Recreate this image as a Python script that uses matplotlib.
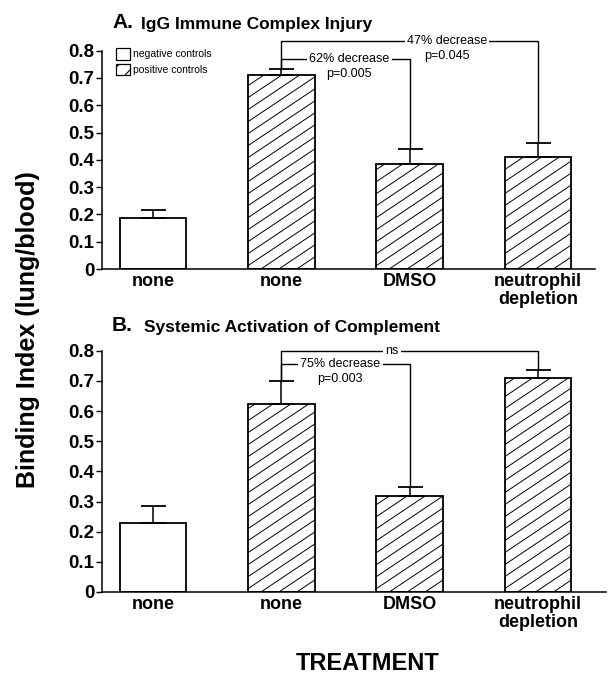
import matplotlib.pyplot as plt
from matplotlib.patches import Patch
from matplotlib.lines import Line2D
from matplotlib.transforms import IdentityTransform

plt.rcParams['font.family'] = ['Liberation Sans', 'DejaVu Sans']
plt.rcParams['hatch.linewidth'] = 0.8

categories = ["none", "none", "DMSO", "neutrophil\ndepletion"]
is_positive = [False, True, True, True]

# panel A: IgG immune complex injury
values_a = [0.188, 0.712, 0.385, 0.410]
errors_a = [0.028, 0.021, 0.055, 0.050]
# (from bar, to bar, bracket level, label, p-value, label position along bracket)
brackets_a = [(1, 2, 0.770, "62% decrease", "p=0.005", 0.53),
              (1, 3, 0.837, "47% decrease", "p=0.045", 0.645)]

# panel B: systemic activation of complement
values_b = [0.229, 0.624, 0.319, 0.708]
errors_b = [0.056, 0.074, 0.030, 0.028]
brackets_b = [(1, 2, 0.756, "75% decrease", "p=0.003", 0.46),
              (1, 3, 0.800, "ns", "", 0.43)]


def fpx(x, y):
    return x / 608, 1 - y / 674


def draw_panel(ax, values, errors, brackets, right):
    x = range(len(categories))
    hatched = []
    for i in x:
        bar = ax.bar(i, values[i], width=0.52, color="white", edgecolor="black",
                     linewidth=1.3, zorder=2)
        if is_positive[i]:
            hatched.append(bar[0])
    ax.errorbar(x, values, yerr=[[0] * len(errors), errors], fmt="none",
                ecolor="black", elinewidth=1.1, capsize=9, capthick=1.3, zorder=3)

    for start, end, level, label, pval, frac in brackets:
        top_start = values[start] + errors[start]
        top_end = values[end] + errors[end]
        ax.plot([start, start, end, end], [top_start, level, level, top_end],
                color="black", lw=1.0, clip_on=False, zorder=1)
        tx = start + frac * (end - start)
        ax.text(tx, level, label, ha="center", va="center", fontsize=9,
                bbox=dict(facecolor="white", edgecolor="none", pad=1.5), zorder=4)
        if pval:
            ax.annotate(pval, (tx, level), xytext=(0, -11), textcoords="offset points",
                        ha="center", va="center", fontsize=9, annotation_clip=False)

    ax.set_ylim(0, 0.8)
    ax.set_xlim(-0.3975, right)
    ax.set_yticks([0, 0.1, 0.2, 0.3, 0.4, 0.5, 0.6, 0.7, 0.8])
    ax.set_yticklabels(["0", "0.1", "0.2", "0.3", "0.4", "0.5", "0.6", "0.7", "0.8"],
                       fontsize=13.5, fontweight="bold")
    ax.set_xticks(list(x))
    ax.set_xticklabels(categories, fontsize=13, fontweight="bold", linespacing=1.05)
    ax.tick_params(axis="x", length=0, pad=3)
    ax.tick_params(axis="y", length=4.5, width=1, pad=1)
    for side in ["top", "right"]:
        ax.spines[side].set_visible(False)
    for side in ["left", "bottom"]:
        ax.spines[side].set_linewidth(1.1)
    return hatched


fig = plt.figure(figsize=(6.08, 6.74), dpi=100)
ax_a = fig.add_axes([102 / 608, 1 - 269 / 674, (595 - 102) / 608, 218.3 / 674])
ax_b = fig.add_axes([102 / 608, 1 - 592 / 674, (606 - 102) / 608, 241.3 / 674])

hatched = draw_panel(ax_a, values_a, errors_a, brackets_a, 3.445)
hatched += draw_panel(ax_b, values_b, errors_b, brackets_b, 3.53)

handles = [Patch(facecolor="white", edgecolor="black", lw=0.9, label="negative controls"),
           Patch(facecolor="white", edgecolor="black", lw=0.9, hatch="//", label="positive controls")]
ax_a.legend(handles=handles, loc="upper left", bbox_to_anchor=(0.02, 1.03), frameon=False,
            fontsize=7.5, handlelength=1.3, handleheight=1.3, handletextpad=0.3,
            labelspacing=0.4, borderaxespad=0)

fig.text(*fpx(112, 23), "A.", fontsize=15, fontweight="bold", va="center", ha="left")
fig.text(*fpx(141, 24), "IgG Immune Complex Injury", fontsize=12.5, fontweight="bold",
         va="center", ha="left")
fig.text(*fpx(112, 326), "B.", fontsize=15, fontweight="bold", va="center", ha="left")
fig.text(*fpx(144, 327), "Systemic Activation of Complement", fontsize=12.5,
         fontweight="bold", va="center", ha="left")

fig.text(*fpx(28, 330), "Binding Index (lung/blood)", rotation=90, fontsize=18,
         fontweight="bold", va="center", ha="center")
fig.text(*fpx(368, 663), "TREATMENT", fontsize=17, fontweight="bold", va="center", ha="center")

# shallow diagonal hatching inside the positive-control bars
fig.canvas.draw()
slope, step = 0.67, 12
for patch in hatched:
    bb = patch.get_window_extent()
    y0 = bb.y0 - slope * bb.width
    while y0 < bb.y1:
        line = Line2D([bb.x0, bb.x1], [y0, y0 + slope * bb.width], transform=IdentityTransform(),
                      color="black", lw=0.7, zorder=2.5)
        line.set_clip_path(patch)
        fig.add_artist(line)
        y0 += step

fig.savefig("out.png", dpi=100)
